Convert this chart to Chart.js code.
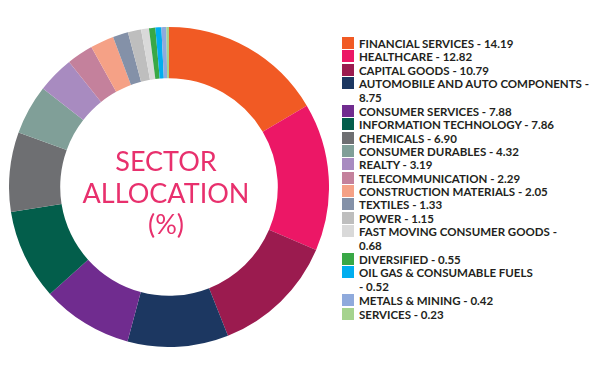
<!DOCTYPE html>
<html lang="en">
<head>
  <meta charset="UTF-8" />
  <title>Sector Allocation</title>
  <script src="https://cdn.jsdelivr.net/npm/chart.js"></script>
  <style>
    body { margin: 0; background: #fff; width: 590px; height: 366px; overflow: hidden; position: relative; font-family: Lato, Arial, sans-serif; }
    #wrap { position: absolute; left: 9px; top: 27px; width: 320px; height: 320px; }
    #legend { position: absolute; left: 342px; top: 37px; }
    .item { display: flex; align-items: flex-start; line-height: 13.35px; }
    .item.two { line-height: 14px; }
    .box { width: 12px; height: 12px; flex: none; margin-right: 5px; }
    .txt { font-size: 11.5px; font-weight: 700; color: #231f20; white-space: nowrap; }
  </style>
</head>
<body>
  <div id="wrap"><canvas id="chart" width="320" height="320"></canvas></div>
  <div id="legend"></div>

  <script>
    const sectors = [
      "FINANCIAL SERVICES", "HEALTHCARE", "CAPITAL GOODS", "AUTOMOBILE AND AUTO COMPONENTS",
      "CONSUMER SERVICES", "INFORMATION TECHNOLOGY", "CHEMICALS", "CONSUMER DURABLES",
      "REALTY", "TELECOMMUNICATION", "CONSTRUCTION MATERIALS", "TEXTILES", "POWER",
      "FAST MOVING CONSUMER GOODS", "DIVERSIFIED", "OIL GAS & CONSUMABLE FUELS",
      "METALS & MINING", "SERVICES"
    ];
    const weights = [14.19, 12.82, 10.79, 8.75, 7.88, 7.86, 6.90, 4.32, 3.19, 2.29, 2.05, 1.33, 1.15, 0.68, 0.55, 0.52, 0.42, 0.23];
    const colors = [
      "#f15a24", "#ec1766", "#9b1b4f", "#1c3761", "#702c8f", "#035e4b", "#6e6f72", "#809f98",
      "#a88bc0", "#c4819c", "#f5a186", "#8491a8", "#bebebe", "#d9d9d9", "#39a846", "#00aeef",
      "#8faadc", "#a5d38e"
    ];
    const centerLines = ["SECTOR", "ALLOCATION", "(%)"];
    // where the legend text wraps onto a second line
    const wrapAfterDash = [3, 13];
    const wrapBeforeDash = [15];

    const centerText = {
      id: "centerText",
      afterDraw(chart) {
        const ctx = chart.ctx;
        const m = chart.getDatasetMeta(0).data[0];
        ctx.save();
        ctx.fillStyle = "#e8306d";
        ctx.font = "400 27px Lato";
        ctx.textAlign = "center";
        ctx.textBaseline = "alphabetic";
        centerLines.forEach((t, i) => {
          ctx.fillText(t, m.x - 3, m.y - 16 + i * 31.5);
        });
        ctx.restore();
      }
    };

    new Chart(document.getElementById("chart"), {
      type: "doughnut",
      data: {
        labels: sectors,
        datasets: [{ data: weights, backgroundColor: colors, borderWidth: 0, hoverOffset: 0 }]
      },
      options: {
        responsive: false,
        animation: false,
        cutout: "68%",
        layout: { padding: 0 },
        plugins: { legend: { display: false }, tooltip: { enabled: false } }
      },
      plugins: [centerText]
    });

    const legend = document.getElementById("legend");
    sectors.forEach((name, i) => {
      const val = weights[i].toFixed(2);
      let text = name + " - " + val;
      if (wrapAfterDash.includes(i)) text = name + " -<br>" + val;
      if (wrapBeforeDash.includes(i)) text = name + "<br>- " + val;
      const item = document.createElement("div");
      item.className = "item" + (text.includes("<br>") ? " two" : "");
      item.innerHTML = `<span class="box" style="background:${colors[i]}"></span><span class="txt">${text.replace(/&(?!lt|gt)/g, "&amp;")}</span>`;
      legend.appendChild(item);
    });
  </script>
</body>
</html>
